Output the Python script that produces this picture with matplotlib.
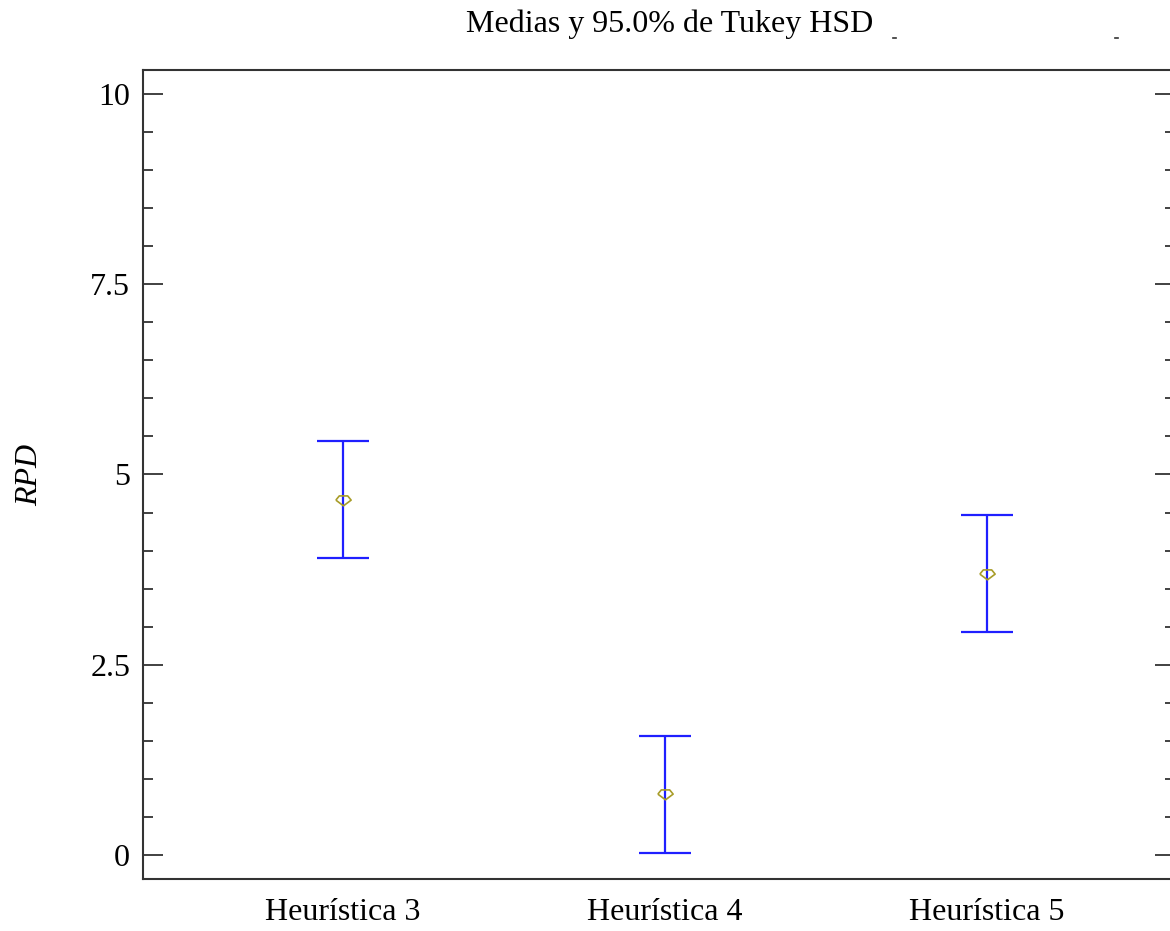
import matplotlib
matplotlib.use("Agg")
import matplotlib.pyplot as plt
from matplotlib.lines import Line2D
from matplotlib.ticker import MultipleLocator

# Tukey HSD 95% intervals for RPD by heuristic
categories = ["Heurística 3", "Heurística 4", "Heurística 5"]
means = [4.67, 0.80, 3.70]
half_width = [0.77, 0.77, 0.77]
yticks = [0, 2.5, 5, 7.5, 10]
ytick_labels = ["0", "2.5", "5", "7.5", "10"]

plt.rcParams["font.family"] = ["Liberation Serif", "DejaVu Serif"]

W, H = 1170, 931
fig = plt.figure(figsize=(W / 100, H / 100), dpi=100)
left, right, top, bottom = 142.7, 1175, 70, 879
ax = fig.add_axes([left / W, 1 - bottom / H, (right - left) / W, (bottom - top) / H])

x = [1, 2, 3]
ax.errorbar(x, means, yerr=half_width, fmt="none", ecolor="#1f1fff",
            elinewidth=1.6, capsize=19, capthick=1.6, zorder=2)

# hollow olive marker for the group means
mean_marker = [(-1, 0.05), (-0.55, 0.6), (0.55, 0.6), (1, 0.05), (0, -0.7), (-1, 0.05)]
ax.plot(x, means, linestyle="none", marker=mean_marker, markersize=11,
        markerfacecolor="none", markeredgecolor="#a89c28", markeredgewidth=1.2, zorder=3)

ax.set_xlim(0.378, 3.583)
ax.set_ylim(-0.31, 10.31)
ax.set_xticks(x)
ax.set_xticklabels(categories, fontsize=23)
ax.set_yticks(yticks)
ax.set_yticklabels(ytick_labels, fontsize=23)
ax.yaxis.set_minor_locator(MultipleLocator(0.5))

ax.tick_params(axis="x", length=0, pad=14)
ax.tick_params(axis="y", which="major", direction="in", length=14.4, width=1.3,
               color="#333333", left=True, right=True, pad=9)
ax.tick_params(axis="y", which="minor", direction="in", length=7.2, width=1.3,
               color="#333333", left=True, right=True)

for s in ax.spines.values():
    s.set_color("#333333")
    s.set_linewidth(1.5)

ax.set_ylabel("RPD", fontsize=23, style="italic", va="center")
ax.yaxis.set_label_coords((30 - left) / (right - left), 0.5)
fig.text(670 / W, 1 - 24 / H, "Medias y 95.0% de Tukey HSD", fontsize=23,
         ha="center", va="center")

# small stray marks next to the title
for xm in (893, 1115):
    fig.add_artist(Line2D([xm / W, (xm + 3) / W], [1 - 38 / H, 1 - 38 / H],
                          color="#333333", linewidth=1.2))

fig.savefig("out.png", dpi=100)
